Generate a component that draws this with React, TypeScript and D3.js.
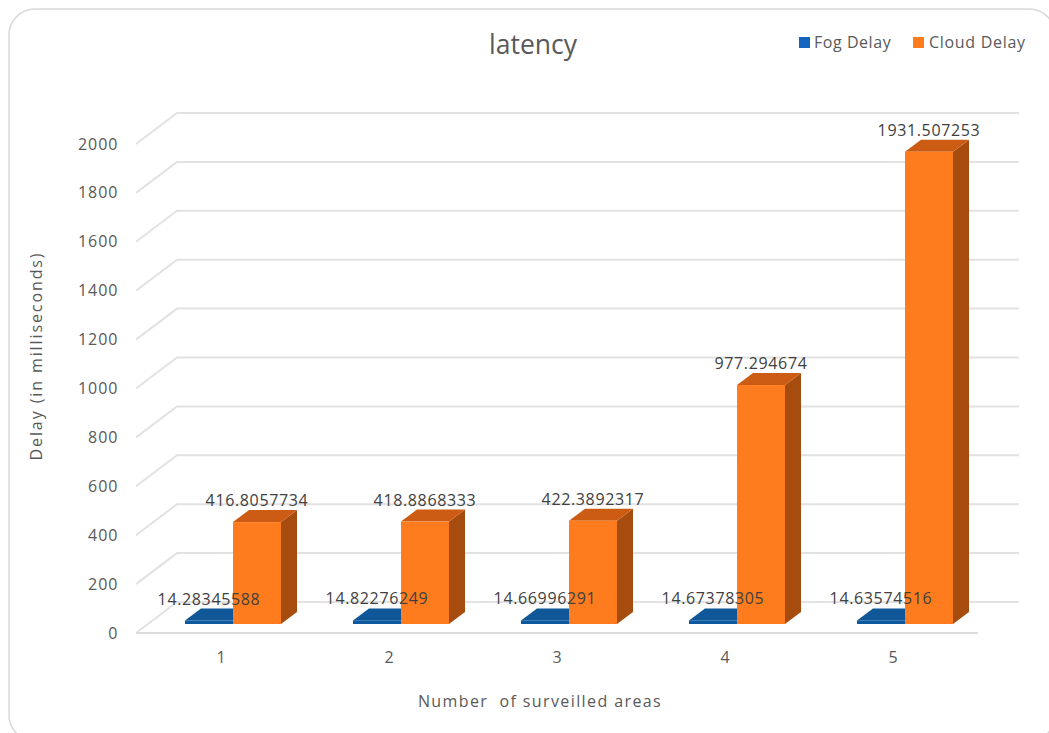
import React from "react";
import * as d3 from "d3";

const categories = ["1", "2", "3", "4", "5"];
const fogDelay = [14.28345588, 14.82276249, 14.66996291, 14.67378305, 14.63574516];
const cloudDelay = [416.8057734, 418.8868333, 422.3892317, 977.294674, 1931.507253];
const fogLabels = ["14.28345588", "14.82276249", "14.66996291", "14.67378305", "14.63574516"];
const cloudLabels = ["416.8057734", "418.8868333", "422.3892317", "977.294674", "1931.507253"];
const yTicks = [0, 200, 400, 600, 800, 1000, 1200, 1400, 1600, 1800, 2000];

const FONT = "'Open Sans', sans-serif";
const WIDTH = 1049;
const HEIGHT = 733;

// Oblique projection: the floor runs back by this much from the front edge to the rear wall.
const DEPTH_X = 41;
const DEPTH_Y = 31;
// Bars stand inside the floor: front face offset and their own depth.
const BAR_OFFSET_X = 12;
const BAR_OFFSET_Y = 9;
const BAR_DX = 16;
const BAR_DY = 12;
const BAR_WIDTH = 48;

const FRONT_LEFT = 136;
const FRONT_RIGHT = 978;
const FLOOR_Y = 633;

// Vertical scale measured on the front plane of the floor.
const y = d3.scaleLinear().domain([0, 2000]).range([FLOOR_Y, FLOOR_Y - 489]);
const x = d3.scaleBand().domain(categories).range([FRONT_LEFT + 1, FRONT_RIGHT - 1]);

const poly = (pts: [number, number][]) => pts.map((p) => p.join(",")).join(" ");

type BarProps = { left: number; value: number; front: string; top: string; side: string };

// One 3D column: front face, top face, and right-hand side face.
function Bar({ left, value, front, top, side }: BarProps) {
  const base = FLOOR_Y - BAR_OFFSET_Y;
  const yTop = y(value) - BAR_OFFSET_Y;
  const right = left + BAR_WIDTH;
  return (
    <g>
      <polygon
        points={poly([
          [right, base],
          [right + BAR_DX, base - BAR_DY],
          [right + BAR_DX, yTop - BAR_DY],
          [right, yTop],
        ])}
        fill={side}
      />
      <polygon
        points={poly([
          [left, yTop],
          [right, yTop],
          [right + BAR_DX, yTop - BAR_DY],
          [left + BAR_DX, yTop - BAR_DY],
        ])}
        fill={top}
      />
      <rect x={left} y={yTop} width={BAR_WIDTH} height={base - yTop} fill={front} />
    </g>
  );
}

export default function App() {
  const grid = yTicks.map((t) => {
    const fy = y(t);
    return (
      <polyline
        key={t}
        points={poly([
          [FRONT_LEFT, fy],
          [FRONT_LEFT + DEPTH_X, fy - DEPTH_Y],
          [FRONT_RIGHT + DEPTH_X, fy - DEPTH_Y],
        ])}
        fill="none"
        stroke="#e2e2e2"
        strokeWidth={2}
      />
    );
  });

  return (
    <svg
      width={WIDTH}
      height={HEIGHT}
      style={{ position: "absolute", left: 0, top: 0, background: "#fff" }}
      fontFamily={FONT}
    >
      <rect x={9} y={9} width={1046} height={732} rx={26} fill="#fff" stroke="#d9d9d9" strokeWidth={1.5} />

      <text x={533} y={44} textAnchor="middle" dominantBaseline="central" fontSize={26.5} fill="#595959">
        latency
      </text>

      <rect x={799} y={37} width={11} height={11} fill="#1565c0" />
      <text x={814} y={42} dominantBaseline="central" fontSize={16} letterSpacing={0.55} fill="#595959">
        Fog Delay
      </text>
      <rect x={913} y={37} width={11} height={11} fill="#ff7c1e" />
      <text x={929} y={42} dominantBaseline="central" fontSize={16} letterSpacing={0.7} fill="#595959">
        Cloud Delay
      </text>

      {grid}
      <line x1={FRONT_LEFT} x2={FRONT_RIGHT} y1={FLOOR_Y} y2={FLOOR_Y} stroke="#dcdcdc" strokeWidth={2} />

      {yTicks.map((t) => (
        <text
          key={t}
          x={118.5}
          y={y(t) - 0.5}
          textAnchor="end"
          dominantBaseline="central"
          fontSize={16}
          letterSpacing={1}
          fill="#595959"
        >
          {t}
        </text>
      ))}

      {categories.map((c, i) => {
        const cx = x(c)! + x.bandwidth() / 2;
        const split = cx + BAR_OFFSET_X;
        return (
          <g key={c}>
            <Bar left={split - BAR_WIDTH} value={fogDelay[i]} front="#0f5a9e" top="#0f5798" side="#0b4a80" />
            <Bar left={split} value={cloudDelay[i]} front="#ff7c1e" top="#cc5c14" side="#a64c0e" />
            <text x={cx} y={657} textAnchor="middle" dominantBaseline="central" fontSize={16} fill="#595959">
              {c}
            </text>
          </g>
        );
      })}

      {categories.map((c, i) => {
        const cx = x(c)! + x.bandwidth() / 2;
        const split = cx + BAR_OFFSET_X;
        return (
          <g
            key={c}
            fontSize={16}
            letterSpacing={0.65}
            fill="#404040"
            textAnchor="middle"
            dominantBaseline="central"
          >
            <text x={split - BAR_WIDTH / 2} y={y(fogDelay[i]) - BAR_OFFSET_Y - 22}>
              {fogLabels[i]}
            </text>
            <text x={split + BAR_WIDTH / 2} y={y(cloudDelay[i]) - BAR_OFFSET_Y - 22}>
              {cloudLabels[i]}
            </text>
          </g>
        );
      })}

      <text
        transform="translate(36,356) rotate(-90)"
        textAnchor="middle"
        dominantBaseline="central"
        fontSize={16}
        letterSpacing={1.9}
        fill="#595959"
      >
        Delay (in milliseconds)
      </text>
      <text
        x={540}
        y={701}
        textAnchor="middle"
        dominantBaseline="central"
        fontSize={16}
        letterSpacing={1.4}
        fill="#595959"
        style={{ whiteSpace: "pre" }}
      >
        Number  of surveilled areas
      </text>
    </svg>
  );
}
